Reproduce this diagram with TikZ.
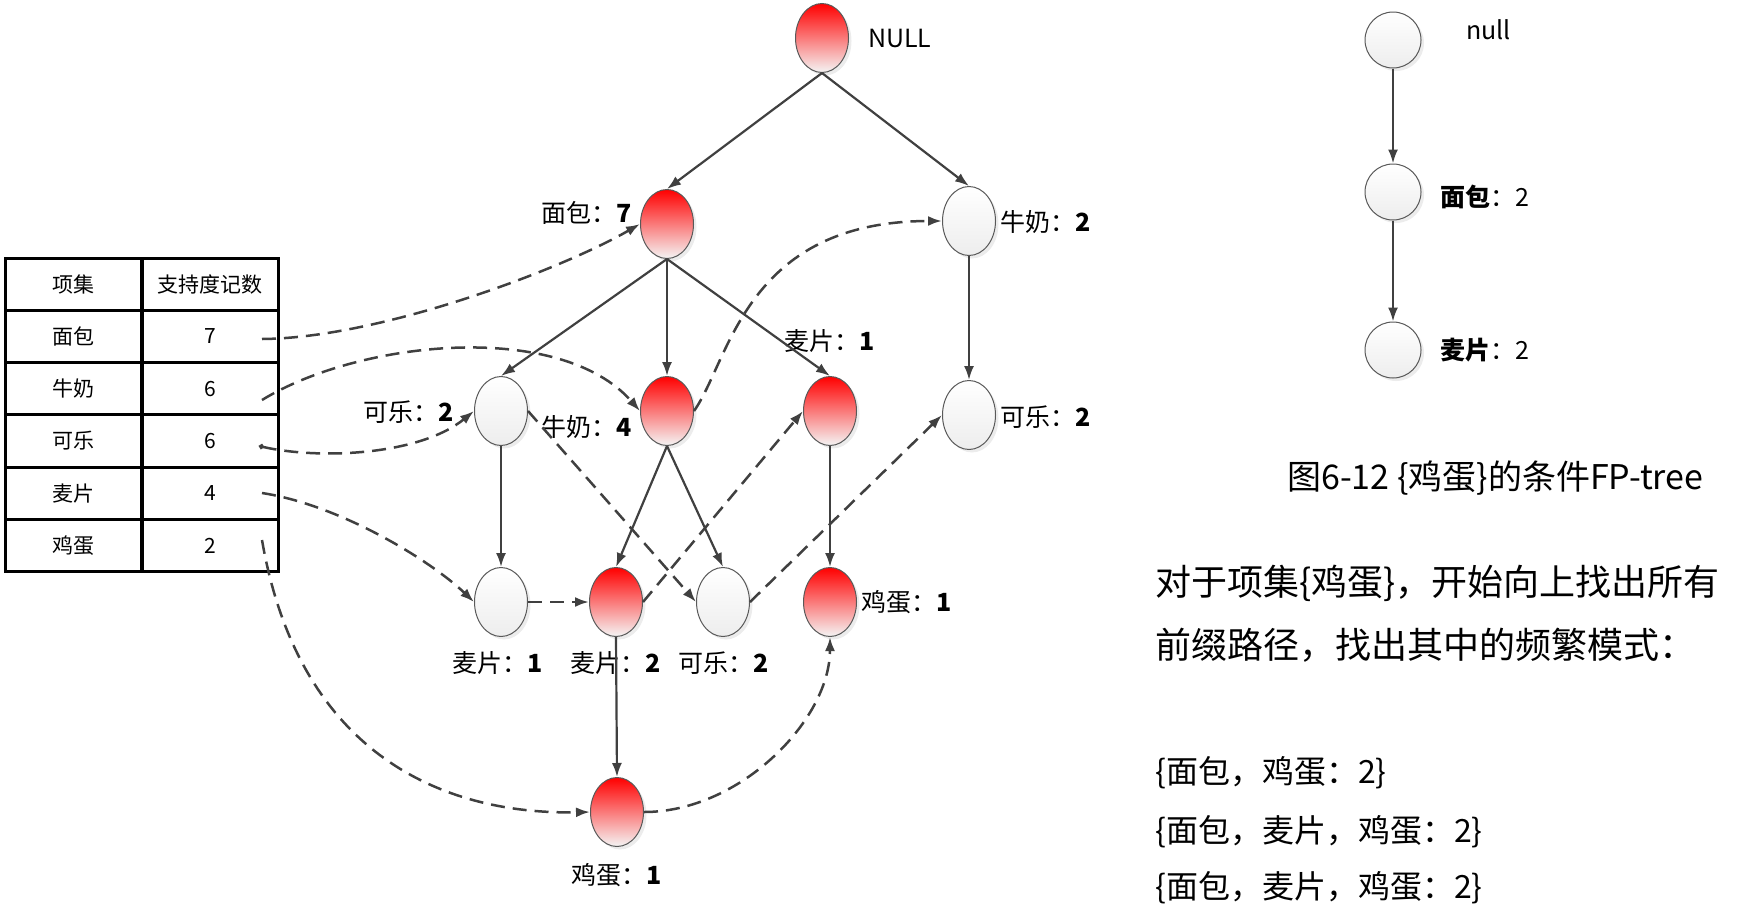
\documentclass[tikz,border=0pt]{standalone}
\usepackage{fontspec}
\setmainfont{Noto Sans CJK SC}
\usetikzlibrary{shapes.geometric,arrows.meta,shadows}

\begin{document}
\begin{tikzpicture}[x=1pt,y=-1pt,>={Latex[length=14pt,width=10pt]}]
    \tikzset{
        fpnode/.style={ellipse,draw=black!65,line width=1pt,inner sep=0pt,
            minimum width=53pt,minimum height=69pt,
            drop shadow={opacity=0.15,shadow xshift=3pt,shadow yshift=-3pt}},
        rednode/.style={fpnode,top color=red,bottom color=gray!8},
        whitenode/.style={fpnode,top color=white,bottom color=gray!14},
        ballnode/.style={circle,draw=black!65,line width=1pt,inner sep=0pt,
            minimum size=56pt,top color=white,bottom color=gray!14,
            drop shadow={opacity=0.15,shadow xshift=3pt,shadow yshift=-3pt}},
        treeedge/.style={->,draw=black!75,line width=2.2pt},
        nodelink/.style={->,draw=black!75,line width=2.5pt,dash pattern=on 14pt off 8pt},
        cell/.style={draw,line width=3pt,minimum width=137pt,minimum height=52.3pt,
            inner sep=0pt,font=\fontsize{21}{25}\selectfont},
        lbl/.style={inner sep=0pt,font=\fontsize{25}{30}\selectfont},
        note/.style={anchor=west,inner sep=0pt}
    }
    \useasboundingbox (0,0) rectangle (1753,913);

    \foreach \name/\num [count=\i from 0] in
        {项集/支持度记数,面包/7,牛奶/6,可乐/6,麦片/4,鸡蛋/2} {
        \node[cell] (item\i) at (73.5,284.15+52.3*\i) {\name};
        \node[cell] (cnt\i) at (210,284.15+52.3*\i) {\num};
    }
    \coordinate (p1) at (262,339);
    \coordinate (p2) at (262,400);
    \coordinate (p3) at (259,446);
    \coordinate (p4) at (262,493);
    \coordinate (p5) at (262,540);

    \node[rednode] (null) at (822,38) {};
    \node[rednode] (mb7) at (667,224) {};
    \node[whitenode] (nn2) at (969,221) {};
    \node[whitenode] (kl2a) at (501,411) {};
    \node[rednode] (nn4) at (667,411) {};
    \node[rednode] (mp1a) at (830,411) {};
    \node[whitenode] (kl2c) at (969,415) {};
    \node[whitenode] (mp1b) at (501,602) {};
    \node[rednode] (mp2) at (616,602) {};
    \node[whitenode] (kl2b) at (723,602) {};
    \node[rednode] (jd1a) at (830,602) {};
    \node[rednode] (jd1b) at (617,812) {};

    \node[lbl,anchor=west] (tnull) at (868,38) {NULL};
    \node[lbl,anchor=east] (tmb7) at (632,213) {面包：\textbf{7}};
    \node[lbl,anchor=west] (tnn2) at (1000,222) {牛奶：\textbf{2}};
    \node[lbl,anchor=east] (tkl2a) at (454,412) {可乐：\textbf{2}};
    \node[lbl,anchor=east] (tnn4) at (632,427) {牛奶：\textbf{4}};
    \node[lbl] (tmp1a) at (830,341) {麦片：\textbf{1}};
    \node[lbl,anchor=west] (tkl2c) at (1000,417) {可乐：\textbf{2}};
    \node[lbl] (tmp1b) at (498,663) {麦片：\textbf{1}};
    \node[lbl] (tmp2) at (616,663) {麦片：\textbf{2}};
    \node[lbl] (tkl2b) at (724,663) {可乐：\textbf{2}};
    \node[lbl,anchor=west] (tjd1a) at (861,602) {鸡蛋：\textbf{1}};
    \node[lbl] (tjd1b) at (617,875) {鸡蛋：\textbf{1}};

    \draw[treeedge] (null.south) -- (mb7.north);
    \draw[treeedge] (null.south) -- (nn2.north);
    \draw[treeedge] (mb7.south) -- (kl2a.north);
    \draw[treeedge] (mb7.south) -- (nn4.north);
    \draw[treeedge] (mb7.south) -- (mp1a.north);
    \draw[treeedge] (nn2.south) -- (kl2c.north);
    \draw[treeedge] (kl2a.south) -- (mp1b.north);
    \draw[treeedge] (nn4.south) -- (mp2.north);
    \draw[treeedge] (nn4.south) -- (kl2b.north);
    \draw[treeedge] (mp1a.south) -- (jd1a.north);
    \draw[treeedge] (mp2.south) -- (jd1b.north);

    \draw[nodelink] (p1) .. controls (380,338) and (560,270) .. (mb7.west);
    \draw[nodelink] (p2) .. controls (360,340) and (560,320) .. (nn4.west);
    \draw[nodelink] (nn4.east) .. controls (730,360) and (745,221) .. (nn2.west);
    \draw[nodelink,{Circle[open,length=5pt]}->] (p3) .. controls (320,460) and (420,455) .. (kl2a.west);
    \draw[nodelink] (kl2a.east) -- (kl2b.west);
    \draw[nodelink] (p4) .. controls (340,505) and (430,560) .. (mp1b.west);
    \draw[nodelink] (mp1b.east) -- (mp2.west);
    \draw[nodelink] (mp2.east) -- (mp1a.west);
    \draw[nodelink] (kl2b.east) -- (kl2c.west);
    \draw[nodelink] (p5) .. controls (300,760) and (450,815) .. (jd1b.west);
    \draw[nodelink] (jd1b.east) .. controls (740,812) and (830,720) .. (jd1a.south);

    \node[ballnode] (cnull) at (1393,40) {};
    \node[ballnode] (cmb) at (1393,192) {};
    \node[ballnode] (cmp) at (1393,350) {};
    \node[lbl,anchor=west] (tcnull) at (1466,30) {null};
    \node[lbl,anchor=west] (tcmb) at (1440,197) {\textbf{面包}：2};
    \node[lbl,anchor=west] (tcmp) at (1440,350) {\textbf{麦片}：2};
    \draw[treeedge] (cnull) -- (cmb);
    \draw[treeedge] (cmb) -- (cmp);

    \node[note,font=\fontsize{34}{40}\selectfont] (caption) at (1287,478)
        {图6-12 \{鸡蛋\}的条件FP-tree};
    \node[note,font=\fontsize{36}{42}\selectfont] (line1) at (1155,583)
        {对于项集\{鸡蛋\}，开始向上找出所有};
    \node[note,font=\fontsize{36}{42}\selectfont] (line2) at (1155,645)
        {前缀路径，找出其中的频繁模式：};
    \node[note,font=\fontsize{32}{37}\selectfont] (pat1) at (1155,773)
        {\{面包，鸡蛋：2\}};
    \node[note,font=\fontsize{32}{37}\selectfont] (pat2) at (1155,832)
        {\{面包，麦片，鸡蛋：2\}};
    \node[note,font=\fontsize{32}{37}\selectfont] (pat3) at (1155,888)
        {\{面包，麦片，鸡蛋：2\}};
\end{tikzpicture}
\end{document}
